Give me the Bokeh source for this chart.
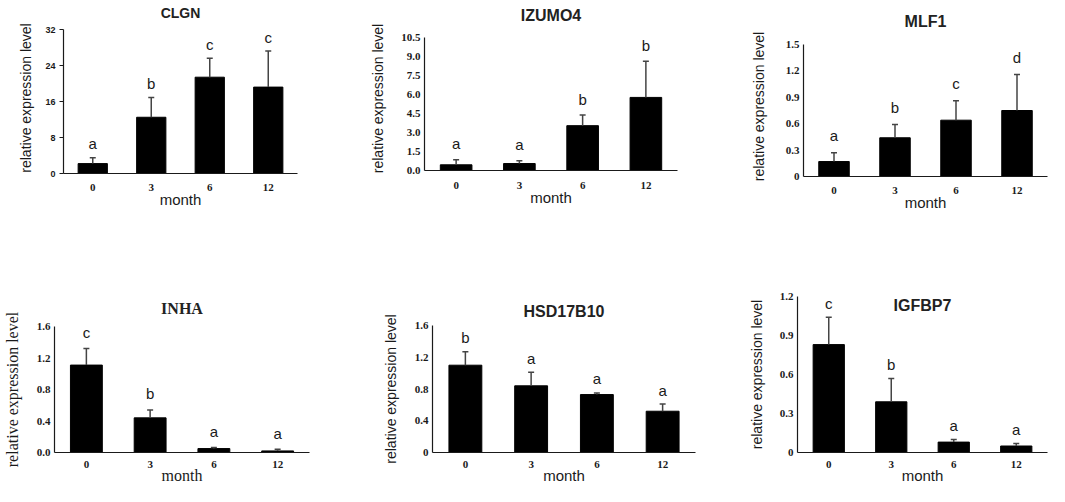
from bokeh.plotting import figure
from bokeh.layouts import row, column
from bokeh.models import (FixedTicker, ColumnDataSource, Whisker, TeeHead,
                          Range1d, FactorRange, Label)
from bokeh.core.properties import value
from bokeh.embed import file_html
from bokeh.resources import INLINE

# ---------------- data ----------------
months = ["0", "3", "6", "12"]

clgn_mean = [2.2, 12.5, 21.4, 19.2]
clgn_sd = [1.3, 4.4, 4.2, 8.0]
clgn_letters = ["a", "b", "c", "c"]
clgn_ticks = [0, 8, 16, 24, 32]
clgn_tick_labels = ["0", "8", "16", "24", "32"]

izumo4_mean = [0.45, 0.55, 3.54, 5.77]
izumo4_sd = [0.39, 0.21, 0.84, 2.86]
izumo4_letters = ["a", "a", "b", "b"]
izumo4_ticks = [0, 1.5, 3.0, 4.5, 6.0, 7.5, 9.0, 10.5]
izumo4_tick_labels = ["0.0", "1.5", "3.0", "4.5", "6.0", "7.5", "9.0", "10.5"]

mlf1_mean = [0.17, 0.44, 0.64, 0.75]
mlf1_sd = [0.10, 0.15, 0.22, 0.41]
mlf1_letters = ["a", "b", "c", "d"]
mlf1_ticks = [0, 0.3, 0.6, 0.9, 1.2, 1.5]
mlf1_tick_labels = ["0", "0.3", "0.6", "0.9", "1.2", "1.5"]

inha_mean = [1.11, 0.44, 0.05, 0.02]
inha_sd = [0.21, 0.10, 0.013, 0.02]
inha_letters = ["c", "b", "a", "a"]
inha_ticks = [0, 0.4, 0.8, 1.2, 1.6]
inha_tick_labels = ["0.0", "0.4", "0.8", "1.2", "1.6"]

hsd17b10_mean = [1.10, 0.84, 0.73, 0.52]
hsd17b10_sd = [0.17, 0.17, 0.02, 0.09]
hsd17b10_letters = ["b", "a", "a", "a"]
hsd17b10_ticks = [0, 0.4, 0.8, 1.2, 1.6]
hsd17b10_tick_labels = ["0", "0.4", "0.8", "1.2", "1.6"]

igfbp7_mean = [0.83, 0.39, 0.08, 0.05]
igfbp7_sd = [0.21, 0.18, 0.02, 0.02]
igfbp7_letters = ["c", "b", "a", "a"]
igfbp7_ticks = [0, 0.3, 0.6, 0.9, 1.2]
igfbp7_tick_labels = ["0", "0.3", "0.6", "0.9", "1.2"]

SANS = "Liberation Sans"
SERIF = "Liberation Serif"
INK = "#1a1a1a"


def panel(title, mean, sd, letters, ticks, tick_labels, width, height,
          borders, title_font=SANS, title_size="16px", title_standoff=12,
          ylab_font=SANS, ylab_size="14px", ylab_standoff=12,
          xlab_font=SANS, xlab_size="15px", xlab_standoff=-3, xtick_standoff=4,
          ytick_font=SERIF, ytick_size="11px", ytick_out=0,
          letter_gap=15, bar_width=0.5, title_inside=False, headroom=None):
    """headroom=(frame_bottom_px, axis_top_px): the frame reaches a little
    above the top tick, and the axis line is bounded to the tick range."""
    left, right, top, bottom = borders
    t_top = ticks[-1]
    if headroom is not None:
        fb, at = headroom
        y_end = t_top * (fb - top) / (fb - at)
    else:
        y_end = t_top
    p = figure(width=width, height=height, x_range=FactorRange(*months),
               y_range=Range1d(ticks[0], y_end),
               output_backend="svg", toolbar_location=None,
               min_border_left=left, min_border_right=right,
               min_border_top=top, min_border_bottom=bottom)
    p.outline_line_color = None
    p.xgrid.visible = False
    p.ygrid.visible = False
    p.background_fill_color = "white"
    p.border_fill_color = "white"

    tops = [m + s for m, s in zip(mean, sd)]
    src = ColumnDataSource(dict(x=months, mean=mean, top=tops, letters=letters))

    p.vbar(x="x", top="mean", bottom=0, width=bar_width, source=src,
           fill_color="black", line_color="black")
    wh = Whisker(base="x", upper="top", lower="mean", source=src,
                 dimension="height", line_color="#444444", line_width=1.5,
                 upper_head=TeeHead(size=6, line_color="#444444", line_width=1.5),
                 lower_head=None, level="overlay")
    p.add_layout(wh)
    p.text(x="x", y="top", text="letters", source=src, y_offset=-letter_gap,
           text_align="center", text_baseline="middle",
           text_font=value(SANS), text_font_size="15px", text_color=INK)

    if title_inside:
        p.add_layout(Label(x=2.0, y=t_top, text=title, text_align="center",
                           text_baseline="top", text_font=title_font,
                           text_font_size=title_size, text_font_style="bold",
                           text_color="#222222"))
    else:
        p.title.text = title
        p.title.align = "center"
        p.title.text_font = title_font
        p.title.text_font_size = title_size
        p.title.text_font_style = "bold"
        p.title.text_color = "#222222"
        p.title.standoff = title_standoff

    ya = p.yaxis[0]
    ya.bounds = (ticks[0], t_top)
    ya.ticker = FixedTicker(ticks=ticks)
    ya.major_label_overrides = {t: l for t, l in zip(ticks, tick_labels)}
    ya.major_label_text_font = ytick_font
    ya.major_label_text_font_size = ytick_size
    ya.major_label_text_font_style = "bold"
    ya.major_label_text_color = INK
    ya.major_tick_in = 0
    ya.major_tick_out = ytick_out
    ya.major_tick_line_color = INK if ytick_out else None
    ya.minor_tick_line_color = None
    ya.axis_line_color = INK
    ya.axis_line_width = 1.2
    ya.major_label_standoff = 4
    ya.axis_label = "relative expression level"
    ya.axis_label_text_font = ylab_font
    ya.axis_label_text_font_size = ylab_size
    ya.axis_label_text_font_style = "normal"
    ya.axis_label_text_color = INK
    ya.axis_label_standoff = ylab_standoff

    xa = p.xaxis[0]
    xa.major_tick_line_color = None
    xa.minor_tick_line_color = None
    xa.axis_line_color = INK
    xa.axis_line_width = 1.2
    xa.major_label_text_font = SERIF
    xa.major_label_text_font_size = "11px"
    xa.major_label_text_font_style = "bold"
    xa.major_label_text_color = INK
    xa.major_label_standoff = xtick_standoff
    xa.axis_label = "month"
    xa.axis_label_text_font = xlab_font
    xa.axis_label_text_font_size = xlab_size
    xa.axis_label_text_font_style = "normal"
    xa.axis_label_text_color = INK
    xa.axis_label_standoff = xlab_standoff
    return p


p1 = panel("CLGN", clgn_mean, clgn_sd, clgn_letters, clgn_ticks,
           clgn_tick_labels, 355, 250, (63, 58, 22, 77),
           title_size="14px", title_standoff=3, headroom=(173, 29),
           ytick_font=SANS, ytick_size="9px", ytick_out=4,
           ylab_standoff=8, letter_gap=14)
p2 = panel("IZUMO4", izumo4_mean, izumo4_sd, izumo4_letters, izumo4_ticks,
           izumo4_tick_labels, 355, 250, (69, 33, 26, 80),
           title_standoff=5, headroom=(170, 37), ylab_standoff=12,
           letter_gap=16, xtick_standoff=5)
p3 = panel("MLF1", mlf1_mean, mlf1_sd, mlf1_letters, mlf1_ticks,
           mlf1_tick_labels, 339, 250, (93, 2, 36, 74),
           title_standoff=14, headroom=(176, 44), ylab_standoff=16,
           letter_gap=17)
p4 = panel("INHA", inha_mean, inha_sd, inha_letters, inha_ticks,
           inha_tick_labels, 355, 236, (52, 46, 76, 34),
           title_font=SERIF, title_standoff=20,
           ylab_font=SERIF, ylab_size="16px", ylab_standoff=13,
           xlab_font=SERIF, xlab_size="16px", xtick_standoff=2,
           xlab_standoff=-4, letter_gap=16)
p5 = panel("HSD17B10", hsd17b10_mean, hsd17b10_sd, hsd17b10_letters,
           hsd17b10_ticks, hsd17b10_tick_labels, 355, 236, (77, 15, 75, 34),
           title_standoff=12, ylab_standoff=13, xtick_standoff=2,
           xlab_standoff=-4, letter_gap=14)
p6 = panel("IGFBP7", igfbp7_mean, igfbp7_sd, igfbp7_letters, igfbp7_ticks,
           igfbp7_tick_labels, 339, 236, (87, 2, 46, 34),
           ylab_standoff=12, xtick_standoff=2, xlab_standoff=-4,
           letter_gap=14, title_inside=True)

layout = column(
    row(column(p1), column(p2), column(p3)),
    row(column(p4), column(p5), column(p6)),
)

open("out.html", "w").write(file_html(layout, INLINE))
